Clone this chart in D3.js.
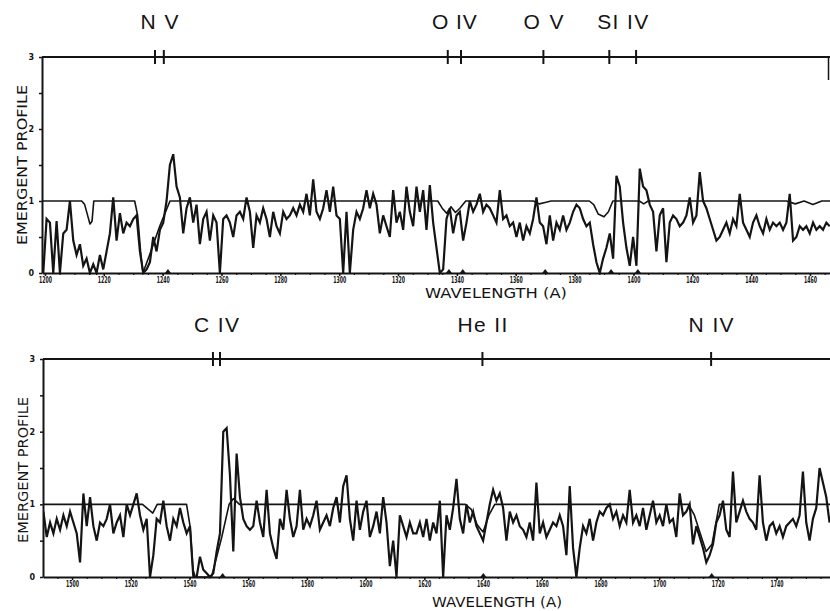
<!DOCTYPE html>
<html>
<head>
<meta charset="utf-8">
<script src="https://cdn.jsdelivr.net/npm/d3@7"></script>
<style>
  body { margin: 0; background: #fff; }
  svg { display: block; }
</style>
</head>
<body>
<div id="chart"></div>
<script>
// Spectres observés : échantillonnage régulier (début, pas en Å)
const topObsStart = 1199.43;
const topObsStep = 1.1325;
const topObserved = [
  0.0, 0.75, 0.7, 0.0, 0.72, 0.0, 0.55, 0.6, 1.0, 0.45,
  0.25, 0.4, 0.1, 0.2, 0.0, 0.12, 0.0, 0.25, 0.05, 0.3,
  0.55, 1.05, 0.45, 0.83, 0.55, 0.7, 0.65, 0.75, 0.8, 0.3,
  0.0, 0.05, 0.15, 0.5, 0.3, 0.6, 0.7, 1.0, 1.5, 1.65,
  1.2, 1.05, 0.55, 0.9, 1.05, 0.7, 0.95, 0.4, 0.75, 0.85,
  0.45, 0.8, 0.7, 0.0, 0.75, 0.8, 0.7, 0.5, 0.8, 0.85,
  0.75, 1.05, 0.85, 0.35, 0.8, 0.7, 0.9, 0.75, 0.5, 0.85,
  0.65, 0.55, 0.85, 0.75, 0.8, 0.9, 0.8, 0.95, 0.85, 1.1,
  0.8, 1.3, 0.85, 0.75, 0.9, 1.15, 0.85, 1.2, 0.8, 0.75,
  0.0, 0.85, 0.0, 0.6, 0.85, 0.75, 0.9, 1.15, 0.9, 1.1,
  0.95, 0.55, 0.8, 0.65, 0.5, 1.15, 0.7, 0.85, 0.6, 1.2,
  0.85, 0.65,
  1.2, 0.85, 1.15, 0.6, 1.22, 0.7, 0.35, 0.0, 0.05, 0.75,
  0.9, 0.55, 0.8, 0.85, 0.45, 0.7, 1.0, 0.85, 0.95, 1.1,
  0.85, 0.95, 0.9, 0.8, 0.7, 1.15, 0.75, 0.8, 0.65, 0.7,
  0.5, 0.7, 0.45, 0.65, 0.55, 0.75, 1.05, 0.7, 0.65, 0.4,
  0.8, 0.45, 0.7, 0.6, 0.8, 0.6, 0.7, 0.85, 0.95, 0.9,
  0.75, 0.65, 0.7, 0.4, 0.15, 0.0, 0.2, 0.35, 0.55, 0.2,
  1.35, 1.2, 0.7, 0.35, 0.1, 0.5, 0.1, 1.45, 1.2, 1.15,
  0.95, 0.85, 0.3, 0.8, 0.9, 0.15, 0.7, 0.8, 0.75, 0.65,
  0.7, 0.8, 1.05, 0.7, 0.8, 1.4, 1.0, 0.9, 0.75, 0.6,
  0.45, 0.5, 0.6, 0.7, 0.55, 0.75, 0.65, 1.1, 0.7, 0.6,
  0.5, 0.7, 0.8, 0.65, 0.55, 0.75, 0.6, 0.7, 0.65, 0.7,
  0.6, 0.7, 1.1, 0.45, 0.5, 0.65, 0.6, 0.65, 0.55, 0.7,
  0.6, 0.65, 0.6, 0.7, 0.65
];

const botObsStart = 1490.24;
const botObsStep = 1.1348;
const botObserved = [
  0.9, 0.55, 0.75, 0.6, 0.8, 0.65, 0.85, 0.7, 0.9, 0.75,
  0.6, 0.2, 1.15, 0.7, 1.1, 0.7, 0.5, 0.75, 0.7, 0.8,
  1.0, 0.6, 0.75, 0.85, 0.55, 1.0, 0.85, 1.0, 1.15, 0.85,
  0.65, 0.8, 0.0, 0.3, 0.8, 0.75, 1.05, 0.7, 0.5, 0.8,
  0.7, 0.95, 0.75, 0.6, 0.7, 0.0, 0.0, 0.28, 0.1, 0.05,
  0.0, 0.05, 0.35, 0.6, 2.0, 2.05, 1.4, 0.35, 1.7, 1.1,
  0.8, 0.7, 0.65, 0.7, 1.05, 0.75, 0.55, 1.2, 0.6, 0.4,
  0.25, 0.8, 0.65, 1.2, 0.8, 0.55, 0.7, 1.2, 0.65, 0.8,
  0.7, 0.85, 1.05, 0.65, 0.75, 0.85, 0.7, 0.95, 1.1, 0.75,
  1.25, 1.4, 0.8, 0.5, 1.05, 0.65, 0.9, 1.05, 0.55, 0.7,
  0.9, 0.6, 1.1, 0.75, 0.15, 0.5, 0.0, 0.85, 0.7, 0.55,
  0.75, 0.6,
  0.6, 0.75, 0.55, 0.8, 0.5, 0.75, 0.6, 1.05, 0.0, 0.85,
  0.65, 0.95, 1.35, 0.8, 0.6, 1.0, 0.75, 0.9, 0.7, 0.6,
  0.5, 0.75, 1.0, 1.2, 1.05, 1.15, 0.95, 0.5, 0.9, 0.75,
  0.85, 0.7, 0.65, 0.55, 0.75, 0.5, 1.3, 0.6, 0.75, 0.55,
  0.65, 0.75, 0.7, 0.85, 0.7, 0.3, 1.25, 0.4, 0.0, 0.4,
  0.7, 0.6, 0.8, 0.5, 0.75, 0.9, 0.85, 0.95, 1.0, 0.8,
  0.9, 0.7, 0.85, 0.75, 1.2, 0.75, 0.85, 0.7, 0.95, 0.65,
  0.85, 1.05, 0.75, 0.85, 0.7, 1.0, 0.75, 0.8, 0.55, 1.15,
  0.85, 0.9, 1.0, 0.45, 0.7, 0.55, 0.4, 0.2, 0.3, 0.45,
  0.75, 0.85, 1.05, 0.65, 0.55, 1.45, 0.75, 0.9, 1.05, 0.9,
  0.8, 0.75, 0.65, 1.4, 0.75, 0.5, 0.7, 0.75, 0.6, 0.7,
  0.55, 0.7, 0.75, 0.8, 0.7, 0.85, 1.45, 0.75, 0.5, 0.8,
  0.95, 1.5, 1.3, 1.1, 0.75
];

// Profils modèles (points de contrôle)
const topModelWave = [1199, 1212.5, 1213.5, 1214.5, 1215.3, 1216, 1216.6, 1230.5, 1231.5, 1232.5,
  1233.3, 1236, 1239, 1242.5, 1333.5, 1335, 1336.5, 1338, 1339.5, 1341, 1343, 1366, 1368, 1370,
  1372, 1385, 1386.5, 1388, 1390, 1391.5, 1393, 1402, 1403.5, 1405, 1452, 1455, 1458, 1461, 1464, 1468];
const topModelFlux = [1, 1, 0.95, 0.8, 0.68, 0.72, 1, 1, 0.8, 0.3,
  0, 0.3, 0.65, 1, 1, 0.9, 0.83, 0.92, 0.84, 0.9, 1, 1, 0.96, 0.98,
  1, 1, 0.95, 0.82, 0.78, 0.85, 1, 1, 0.96, 1, 1, 0.96, 1, 0.95, 1, 1];

const botModelWave = [1490, 1524, 1526, 1527.5, 1529, 1539, 1540.2, 1541.2, 1542, 1547.5, 1551,
  1553.5, 1555, 1557, 1634, 1636, 1638, 1640, 1642, 1644, 1710, 1712, 1714, 1716, 1718, 1720.5, 1760];
const botModelFlux = [1, 1, 0.93, 0.88, 1, 1, 0.7, 0.1, 0, 0, 0.55,
  1, 1.08, 1, 1, 0.93, 0.72, 0.62, 0.85, 1, 1, 0.85, 0.6, 0.35, 0.45, 1, 1];

// Raies identifiées
const topIons = ["N V", "O IV", "O V", "SI IV"];
const topIonWaves = [[1237.4, 1240.4], [1336.9, 1341.4], [1369.4], [1391.8, 1400.9]];
const topTriangles = [1241.8, 1337.3, 1342.0, 1370.0, 1392.4, 1401.5];

const botIons = ["C IV", "He II", "N IV"];
const botIonWaves = [[1548.0, 1550.4], [1639.8], [1717.7]];
const botTriangles = [1551.3, 1640.1, 1717.9];

const topTicks = [1200, 1220, 1240, 1260, 1280, 1300, 1320, 1340, 1360, 1380, 1400, 1420, 1440, 1460];
const botTicks = [1500, 1520, 1540, 1560, 1580, 1600, 1620, 1640, 1660, 1680, 1700, 1720, 1740];

// Mise en page
const width = 830, height = 611;
const ink = "#141414";

const panels = [
  {
    id: "top", domain: [1199.0, 1466.8], left: 42, right: 830, top: 57, bottom: 273,
    obsStart: topObsStart, obsStep: topObsStep, observed: topObserved,
    modelWave: topModelWave, modelFlux: topModelFlux,
    ions: topIons, ionWaves: topIonWaves, triangles: topTriangles, ticks: topTicks,
    ionBaseline: 29, xTitle: [496, 298, 142], yTitle: [27, 165, 160], rightStub: 80
  },
  {
    id: "bot", domain: [1490.1, 1758.2], left: 43, right: 830, top: 359, bottom: 577,
    obsStart: botObsStart, obsStep: botObsStep, observed: botObserved,
    modelWave: botModelWave, modelFlux: botModelFlux,
    ions: botIons, ionWaves: botIonWaves, triangles: botTriangles, ticks: botTicks,
    ionBaseline: 332, xTitle: [497, 607, 130], yTitle: [28, 470, 146], rightStub: 0
  }
];

const ionWidths = { "N V": 38, "O IV": 45, "O V": 40, "SI IV": 51, "C IV": 45, "He II": 50, "N IV": 45 };

const svg = d3.select("#chart")
  .append("svg")
  .attr("width", width)
  .attr("height", height);

svg.append("rect").attr("width", width).attr("height", height).attr("fill", "#fff");

panels.forEach(drawPanel);

function drawPanel(p) {
  const x = d3.scaleLinear().domain(p.domain).range([p.left, p.right]);
  const y = d3.scaleLinear().domain([0, 3]).range([p.bottom, p.top]);

  const g = svg.append("g").attr("class", "panel-" + p.id);

  g.append("clipPath").attr("id", "clip-" + p.id)
    .append("rect")
    .attr("x", p.left).attr("y", p.top - 2)
    .attr("width", p.right - p.left).attr("height", p.bottom - p.top + 4);

  const line = d3.line().x(d => x(d.w)).y(d => y(d.v));

  const model = p.modelWave.map((w, i) => ({ w: w, v: p.modelFlux[i] }));
  const obs = p.observed.map((v, i) => ({ w: p.obsStart + i * p.obsStep, v: v }));

  g.append("path")
    .datum(model)
    .attr("clip-path", `url(#clip-${p.id})`)
    .attr("fill", "none")
    .attr("stroke", ink)
    .attr("stroke-width", 1.6)
    .attr("stroke-linejoin", "round")
    .attr("d", line);

  g.append("path")
    .datum(obs)
    .attr("clip-path", `url(#clip-${p.id})`)
    .attr("fill", "none")
    .attr("stroke", ink)
    .attr("stroke-width", 2.2)
    .attr("stroke-linejoin", "miter")
    .attr("d", line);

  // Axe des longueurs d'onde (ligne zéro)
  const minor = d3.range(Math.ceil(p.domain[0] / 5) * 5, p.domain[1], 5);
  g.append("g")
    .attr("transform", `translate(0,${y(0)})`)
    .call(d3.axisBottom(x).tickValues(minor).tickSize(2).tickSizeOuter(0).tickFormat(""))
    .call(a => a.select(".domain").remove())
    .call(a => a.selectAll("line").attr("stroke", ink).attr("stroke-width", 1.2));

  const xAxis = g.append("g")
    .attr("transform", `translate(0,${y(0)})`)
    .call(d3.axisBottom(x).tickValues(p.ticks).tickSize(3).tickSizeOuter(0).tickPadding(1).tickFormat(d3.format("d")));
  xAxis.select(".domain").attr("stroke", ink).attr("stroke-width", 2);
  xAxis.selectAll("line").attr("stroke", ink).attr("stroke-width", 1.5);
  xAxis.selectAll("text")
    .attr("fill", ink)
    .attr("font-family", "DejaVu Sans, sans-serif")
    .attr("font-weight", "bold")
    .attr("font-size", 9)
    .attr("textLength", 13)
    .attr("lengthAdjust", "spacingAndGlyphs");

  // Ligne du haut (niveau 3)
  g.append("line")
    .attr("x1", x.range()[0]).attr("x2", x.range()[1])
    .attr("y1", y(3)).attr("y2", y(3))
    .attr("stroke", ink).attr("stroke-width", 2);

  if (p.rightStub) {
    g.append("line")
      .attr("x1", p.right - 1.5).attr("x2", p.right - 1.5)
      .attr("y1", y(3)).attr("y2", p.rightStub)
      .attr("stroke", ink).attr("stroke-width", 1.5);
  }

  // Axe vertical
  const yAxis = g.append("g")
    .attr("transform", `translate(${p.left},0)`)
    .call(d3.axisLeft(y).tickValues([0, 0.5, 1, 1.5, 2, 2.5, 3]).tickSize(3).tickSizeOuter(0).tickPadding(5)
      .tickFormat(d => Number.isInteger(d) ? d : ""));
  yAxis.select(".domain").attr("stroke", ink).attr("stroke-width", 2);
  yAxis.selectAll("line").attr("stroke", ink).attr("stroke-width", 1.5);
  yAxis.selectAll("text")
    .attr("fill", ink)
    .attr("font-family", "DejaVu Sans, sans-serif")
    .attr("font-weight", "bold")
    .attr("font-size", 8);

  // Repères des raies sur la ligne du haut
  p.ionWaves.forEach((waves, i) => {
    waves.forEach(w => {
      g.append("line")
        .attr("x1", x(w)).attr("x2", x(w))
        .attr("y1", y(3) - 7).attr("y2", y(3) + 7)
        .attr("stroke", ink).attr("stroke-width", 2);
    });
    g.append("text")
      .attr("x", x(d3.mean(waves)))
      .attr("y", p.ionBaseline)
      .attr("text-anchor", "middle")
      .attr("fill", ink)
      .attr("font-family", "Liberation Sans, Arial, sans-serif")
      .attr("font-size", 21)
      .attr("textLength", ionWidths[p.ions[i]])
      .attr("lengthAdjust", "spacing")
      .text(p.ions[i]);
  });

  // Petits triangles sur la ligne zéro
  g.selectAll(".tri")
    .data(p.triangles)
    .enter()
    .append("path")
    .attr("class", "tri")
    .attr("d", d => `M${x(d) - 3},${y(0)} L${x(d)},${y(0) - 4} L${x(d) + 3},${y(0)} Z`)
    .attr("fill", ink);

  // Titres d'axes
  g.append("text")
    .attr("x", p.xTitle[0])
    .attr("y", p.xTitle[1])
    .attr("text-anchor", "middle")
    .attr("fill", ink)
    .attr("font-family", "DejaVu Sans, sans-serif")
    .attr("font-size", 14)
    .attr("textLength", p.xTitle[2])
    .attr("lengthAdjust", "spacingAndGlyphs")
    .text("WAVELENGTH (A)");

  g.append("text")
    .attr("transform", `translate(${p.yTitle[0]},${p.yTitle[1]}) rotate(-90)`)
    .attr("text-anchor", "middle")
    .attr("fill", ink)
    .attr("font-family", "DejaVu Sans, sans-serif")
    .attr("font-size", 14)
    .attr("textLength", p.yTitle[2])
    .attr("lengthAdjust", "spacingAndGlyphs")
    .text("EMERGENT PROFILE");
}
</script>
</body>
</html>
